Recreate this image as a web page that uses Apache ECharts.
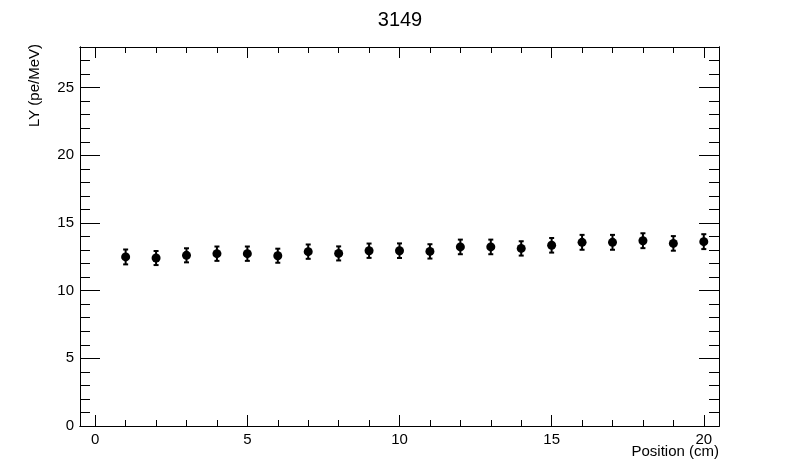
<!DOCTYPE html>
<html>
<head>
<meta charset="utf-8">
<script src="https://cdn.jsdelivr.net/npm/echarts@6/dist/echarts.min.js"></script>
<style>html,body{margin:0;padding:0;background:#fff}#c{width:800px;height:474px}</style>
</head>
<body>
<div id="c"></div>
<script>
var positions = [1,2,3,4,5,6,7,8,9,10,11,12,13,14,15,16,17,18,19,20];
var lyValues = [12.49,12.41,12.61,12.73,12.73,12.58,12.88,12.75,12.95,12.95,12.90,13.23,13.23,13.12,13.35,13.57,13.57,13.69,13.49,13.62];
var lyErrors = [0.55,0.52,0.52,0.53,0.53,0.52,0.53,0.52,0.53,0.54,0.53,0.54,0.54,0.53,0.54,0.55,0.55,0.55,0.54,0.55];
var xMajorTicks = [0,5,10,15,20];
var xMinorTicks = [0,1,2,3,4,5,6,7,8,9,10,11,12,13,14,15,16,17,18,19,20];
var yMajorTicks = [0,5,10,15,20,25];
var yMinorTicks = [0,1,2,3,4,5,6,7,8,9,10,11,12,13,14,15,16,17,18,19,20,21,22,23,24,25,26,27,28];
var chartTitle = '3149';
var xTitle = 'Position (cm)';
var yTitle = 'LY (pe/MeV)';

var FONT = 'Liberation Sans, Arial, Helvetica, sans-serif';
var chart = echarts.init(document.getElementById('c'));

var points = positions.map(function(x,i){ return [x, lyValues[i], lyErrors[i]]; });

function xAx(grid, pos, ticks, len, labels){
  return {
    type:'value', gridIndex:grid, position:pos, min:-0.5, max:20.5,
    axisLine:{show:true, onZero:false, lineStyle:{color:'#000', width:1}},
    axisTick:{show:true, inside:true, length:len, customValues:ticks, lineStyle:{color:'#000', width:1}},
    axisLabel:{show:labels, customValues:ticks, color:'#000', fontSize:15, fontFamily:FONT, margin:6},
    splitLine:{show:false}, minorTick:{show:false}
  };
}
function yAx(grid, pos, ticks, len, labels){
  return {
    type:'value', gridIndex:grid, position:pos, min:0, max:28,
    axisLine:{show:true, onZero:false, lineStyle:{color:'#000', width:1}},
    axisTick:{show:true, inside:true, length:len, customValues:ticks, lineStyle:{color:'#000', width:1}},
    axisLabel:{show:labels, customValues:ticks, color:'#000', fontSize:15, fontFamily:FONT, margin:6},
    splitLine:{show:false}, minorTick:{show:false}
  };
}

var option = {
  backgroundColor:'#fff',
  animation:false,
  title:{text:chartTitle, left:'center', top:5, textStyle:{fontSize:20, fontWeight:'normal', color:'#000', fontFamily:FONT}},
  grid:[
    {left:80, right:81, top:47, bottom:48},
    {left:80, right:81, top:47, bottom:48}
  ],
  xAxis:[
    xAx(0,'bottom',xMajorTicks,11,true),
    xAx(0,'top',xMajorTicks,11,false),
    xAx(1,'bottom',xMinorTicks,6,false),
    xAx(1,'top',xMinorTicks,6,false)
  ],
  yAxis:[
    yAx(0,'left',yMajorTicks,20,true),
    yAx(0,'right',yMajorTicks,20,false),
    yAx(1,'left',yMinorTicks,10,false),
    yAx(1,'right',yMinorTicks,10,false)
  ],
  graphic:[
    {type:'text', x:719, y:452, style:{text:xTitle, x:0, y:0, align:'right', verticalAlign:'middle', fontSize:15, fontFamily:FONT, fill:'#000'}},
    {type:'text', x:35, y:44, rotation:Math.PI/2, style:{text:yTitle, x:0, y:0, align:'right', verticalAlign:'middle', fontSize:15, fontFamily:FONT, fill:'#000'}}
  ],
  series:[
    {
      type:'custom', xAxisIndex:0, yAxisIndex:0, data:points,
      renderItem:function(params, api){
        var x = api.value(0), y = api.value(1), e = api.value(2);
        var lo = api.coord([x, y - e]), hi = api.coord([x, y + e]);
        var c = 2.5;
        var st = {stroke:'#000', lineWidth:2};
        return {type:'group', children:[
          {type:'line', shape:{x1:lo[0], y1:lo[1], x2:hi[0], y2:hi[1]}, style:st},
          {type:'line', shape:{x1:lo[0]-c, y1:lo[1], x2:lo[0]+c, y2:lo[1]}, style:st},
          {type:'line', shape:{x1:hi[0]-c, y1:hi[1], x2:hi[0]+c, y2:hi[1]}, style:st}
        ]};
      },
      z:2
    },
    {
      type:'scatter', xAxisIndex:0, yAxisIndex:0,
      data:points.map(function(p){ return [p[0], p[1]]; }),
      symbol:'circle', symbolSize:9, itemStyle:{color:'#000', opacity:1}, z:3
    }
  ]
};
chart.setOption(option);
</script>
</body>
</html>
